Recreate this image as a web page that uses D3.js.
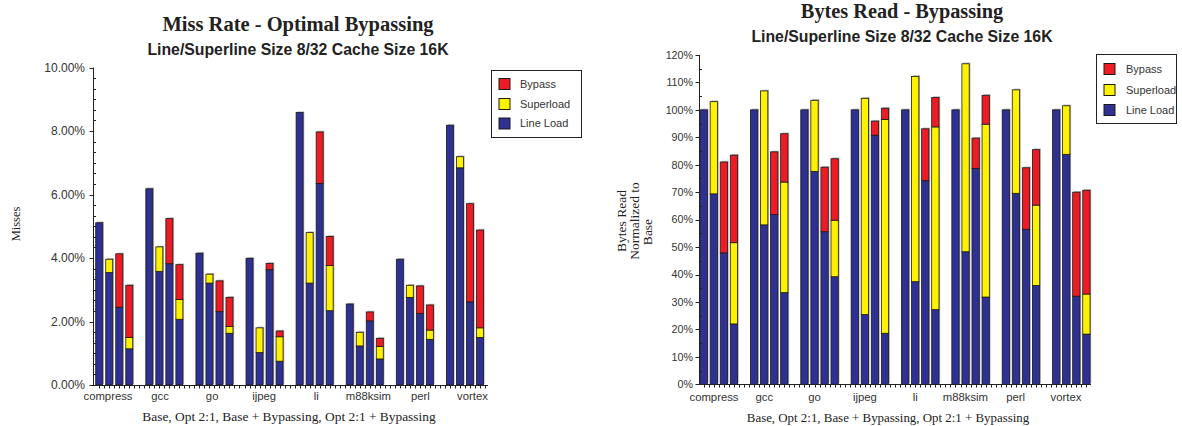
<!DOCTYPE html>
<html>
<head>
<meta charset="utf-8">
<script src="https://cdn.jsdelivr.net/npm/d3@7"></script>
<style>
  html, body { margin: 0; padding: 0; background: #fff; }
  svg { display: block; }
</style>
</head>
<body>
<div id="chart"></div>
<script>
// benchmarks and the four configurations drawn for each of them
const benchmarks = ['compress', 'gcc', 'go', 'ijpeg', 'li', 'm88ksim', 'perl', 'vortex'];
const configs = ['Base', 'Opt 2:1', 'Base + Bypassing', 'Opt 2:1 + Bypassing'];
const seriesKeys = ['lineLoad', 'superload', 'bypass'];
const legendNames = ['Bypass', 'Superload', 'Line Load'];

// Miss rate (%) - 4 bars per benchmark, in config order
const missLineLoad = [5.11, 3.54, 2.45, 1.14, 6.18, 3.58, 3.82, 2.07, 4.15, 3.21, 2.31, 1.63, 3.99, 1.02, 3.63, 0.75,
  8.58, 3.21, 6.35, 2.34, 2.55, 1.23, 2.02, 0.82, 3.96, 2.76, 2.25, 1.44, 8.18, 6.84, 2.62, 1.50];
const missSuperload = [0, 0.42, 0, 0.36, 0, 0.77, 0, 0.62, 0, 0.28, 0, 0.21, 0, 0.78, 0, 0.77,
  0, 1.59, 0, 1.42, 0, 0.43, 0, 0.39, 0, 0.38, 0, 0.29, 0, 0.35, 0, 0.30];
const missBypass = [0, 0, 1.68, 1.64, 0, 0, 1.42, 1.10, 0, 0, 0.97, 0.92, 0, 0, 0.20, 0.18,
  0, 0, 1.62, 0.92, 0, 0, 0.28, 0.26, 0, 0, 0.87, 0.79, 0, 0, 3.09, 3.08];
const missTicks = [0, 2, 4, 6, 8, 10];

// Bytes read normalized to base (%)
const bytesLineLoad = [100, 69.4, 47.9, 22.0, 100, 58.1, 61.9, 33.4, 100, 77.6, 55.6, 39.2, 100, 25.4, 90.8, 18.6,
  100, 37.4, 74.2, 27.2, 100, 48.3, 78.7, 31.8, 100, 69.6, 56.5, 36.0, 100, 83.8, 32.1, 18.3];
const bytesSuperload = [0, 33.6, 0, 29.6, 0, 48.8, 0, 40.3, 0, 25.9, 0, 20.6, 0, 78.8, 0, 77.9,
  0, 74.8, 0, 66.6, 0, 68.5, 0, 63.0, 0, 37.7, 0, 29.3, 0, 17.7, 0, 14.6];
const bytesBypass = [0, 0, 33.1, 31.9, 0, 0, 22.8, 17.6, 0, 0, 23.5, 22.4, 0, 0, 5.1, 4.1,
  0, 0, 18.9, 10.7, 0, 0, 11.0, 10.5, 0, 0, 22.4, 20.2, 0, 0, 37.9, 37.8];
const bytesTicks = [0, 10, 20, 30, 40, 50, 60, 70, 80, 90, 100, 110, 120];

const colors = { lineLoad: '#2e3191', superload: '#fff200', bypass: '#ed1c24' };
const legendColors = ['#ed1c24', '#fff200', '#2e3191'];
const SANS = '"Liberation Sans", Arial, sans-serif';
const SERIF = '"Liberation Serif", "Times New Roman", serif';
const INK = '#222';

const width = 1182, height = 426;
const svg = d3.select('#chart').append('svg')
  .attr('width', width)
  .attr('height', height);

function buildRows(lineLoad, superload, bypass) {
  const rows = [];
  benchmarks.forEach((b, g) => {
    configs.forEach((c, k) => {
      const i = g * configs.length + k;
      rows.push({ slot: g * (configs.length + 1) + k, lineLoad: lineLoad[i], superload: superload[i], bypass: bypass[i] });
    });
  });
  return rows;
}

function drawPanel(p) {
  const rows = buildRows(p.lineLoad, p.superload, p.bypass);
  const g = svg.append('g');

  const slots = d3.range(benchmarks.length * (configs.length + 1));
  const x = d3.scaleBand().domain(slots).range([p.slotStart, p.slotStart + slots.length * p.slotStep])
    .paddingInner(1 - p.barW / p.slotStep).paddingOuter((1 - p.barW / p.slotStep) / 2);
  const y = d3.scaleLinear().domain([0, p.yMax]).range([p.yBottom, p.yTop]);
  const xLabel = d3.scalePoint().domain(benchmarks).range(p.labelRange);

  const stack = d3.stack().keys(seriesKeys);
  const series = stack(rows);

  // bar shadows
  g.append('g').selectAll('rect')
    .data(rows)
    .enter().append('rect')
    .attr('x', d => x(d.slot) + 1.2)
    .attr('y', d => y(d.lineLoad + d.superload + d.bypass) - 1.2)
    .attr('width', x.bandwidth())
    .attr('height', d => y(0) - y(d.lineLoad + d.superload + d.bypass))
    .attr('fill', '#b4b4b4');

  // stacked segments
  g.append('g').selectAll('g')
    .data(series)
    .enter().append('g')
    .attr('fill', s => colors[s.key])
    .selectAll('rect')
    .data(s => s.filter(d => d[1] - d[0] > 0))
    .enter().append('rect')
    .attr('x', d => x(d.data.slot))
    .attr('y', d => y(d[1]))
    .attr('width', x.bandwidth())
    .attr('height', d => y(d[0]) - y(d[1]))
    .attr('stroke', '#1a1a1a')
    .attr('stroke-width', 0.8);

  // y axis
  const axisX = p.axisX0 + 0.5;
  g.append('line')
    .attr('x1', axisX).attr('x2', axisX)
    .attr('y1', y(p.yMax)).attr('y2', y(0))
    .attr('stroke', INK);
  const minorTicks = d3.range(0, p.yMax + 1e-6, p.minorStep).filter(v => !p.ticks.some(t => Math.abs(t - v) < 1e-6));
  g.append('g').selectAll('line')
    .data(minorTicks)
    .enter().append('line')
    .attr('x1', axisX).attr('x2', axisX + 2.5)
    .attr('y1', d => Math.round(y(d)) + 0.5).attr('y2', d => Math.round(y(d)) + 0.5)
    .attr('stroke', INK);
  g.append('g').selectAll('line')
    .data(p.ticks)
    .enter().append('line')
    .attr('x1', axisX - 4).attr('x2', axisX)
    .attr('y1', d => Math.round(y(d)) + 0.5).attr('y2', d => Math.round(y(d)) + 0.5)
    .attr('stroke', INK);
  g.append('g').selectAll('text')
    .data(p.ticks)
    .enter().append('text')
    .attr('x', p.axisX0 - p.tickGap)
    .attr('y', d => y(d))
    .attr('dy', '0.35em')
    .attr('text-anchor', 'end')
    .style('font-family', SANS)
    .style('font-size', p.tickFont + 'px')
    .style('fill', '#333')
    .text(p.tickFmt);

  // x axis
  const baseY = Math.round(y(0)) + 0.5;
  g.append('line')
    .attr('x1', p.axisX0).attr('x2', p.axisX1)
    .attr('y1', baseY).attr('y2', baseY)
    .attr('stroke', INK);
  const halfSteps = d3.range(0, 2 * slots.length + 1)
    .map(k => p.slotStart + k * x.step() / 2)
    .filter(v => v > p.axisX0 + 2 && v <= p.axisX1);
  g.append('g').selectAll('line')
    .data(halfSteps)
    .enter().append('line')
    .attr('x1', d => Math.round(d) + 0.5).attr('x2', d => Math.round(d) + 0.5)
    .attr('y1', baseY).attr('y2', baseY + 3)
    .attr('stroke', INK);
  g.append('g').selectAll('text')
    .data(benchmarks)
    .enter().append('text')
    .attr('x', d => xLabel(d))
    .attr('y', p.catY)
    .attr('text-anchor', 'middle')
    .style('font-family', SANS)
    .style('font-size', '11.3px')
    .style('fill', '#333')
    .text(d => d);

  // titles
  g.append('text')
    .attr('x', p.centerX).attr('y', p.titleY)
    .attr('text-anchor', 'middle')
    .style('font-family', SERIF).style('font-weight', 'bold')
    .style('font-size', p.titleFont + 'px').style('fill', INK)
    .text(p.title);
  g.append('text')
    .attr('x', p.centerX).attr('y', p.subY)
    .attr('text-anchor', 'middle')
    .style('font-family', SANS).style('font-weight', 'bold')
    .style('font-size', p.subFont + 'px').style('fill', INK)
    .text(p.subtitle);
  g.append('text')
    .attr('x', p.xTitleX).attr('y', p.xTitleY)
    .attr('text-anchor', 'middle')
    .style('font-family', SERIF)
    .style('font-size', p.xTitleFont + 'px').style('fill', INK)
    .text(configs.join(', '));

  // y title
  p.yTitle.forEach((line, i) => {
    g.append('text')
      .attr('transform', `translate(${p.yTitleX[i]},${p.yTitleY[i]}) rotate(-90)`)
      .attr('dy', '0.35em')
      .attr('text-anchor', 'middle')
      .style('font-family', SERIF)
      .style('font-size', p.yTitleFont + 'px').style('fill', INK)
      .text(line);
  });

  // legend
  const lg = g.append('g').attr('transform', `translate(${p.legend.x},${p.legend.y})`);
  lg.append('rect')
    .attr('x', 0.5).attr('y', 0.5)
    .attr('width', p.legend.w).attr('height', p.legend.h)
    .attr('fill', '#fff').attr('stroke', INK);
  const items = lg.selectAll('.legend-item')
    .data(legendNames)
    .enter().append('g')
    .attr('class', 'legend-item')
    .attr('transform', (d, i) => `translate(0,${p.legend.rows[i]})`);
  items.append('rect')
    .attr('x', p.legend.boxX).attr('y', -p.legend.box / 2)
    .attr('width', p.legend.box).attr('height', p.legend.box)
    .attr('fill', (d, i) => legendColors[i])
    .attr('stroke', '#1a1a1a');
  items.append('text')
    .attr('x', p.legend.textX).attr('dy', '0.35em')
    .style('font-family', SANS)
    .style('font-size', p.legend.font + 'px').style('fill', '#333')
    .text(d => d);
}

drawPanel({
  lineLoad: missLineLoad, superload: missSuperload, bypass: missBypass,
  ticks: missTicks, yMax: 10, minorStep: 2 / 6,
  tickFmt: d => d.toFixed(2) + '%', tickFont: 12, tickGap: 8,
  yTop: 67.5, yBottom: 385, axisX0: 93, axisX1: 488,
  slotStart: 94.2, slotStep: 10.02, barW: 7,
  labelRange: [108, 472.5], catY: 400,
  centerX: 298, title: 'Miss Rate - Optimal Bypassing', titleY: 31, titleFont: 20.5,
  subtitle: 'Line/Superline Size 8/32 Cache Size 16K', subY: 54.5, subFont: 15.8,
  xTitleX: 289, xTitleY: 421, xTitleFont: 13.4,
  yTitle: ['Misses'], yTitleX: [16], yTitleY: [224], yTitleFont: 12.5,
  legend: { x: 491, y: 70, w: 90, h: 67, rows: [14, 34, 53.5], box: 11, boxX: 8, textX: 29, font: 11 }
});

drawPanel({
  lineLoad: bytesLineLoad, superload: bytesSuperload, bypass: bytesBypass,
  ticks: bytesTicks, yMax: 120, minorStep: 5,
  tickFmt: d => d + '%', tickFont: 10.7, tickGap: 6,
  yTop: 55, yBottom: 384.3, axisX0: 699, axisX1: 1091,
  slotStart: 698.7, slotStep: 10.07, barW: 7.3,
  labelRange: [714, 1066], catY: 401,
  centerX: 902, title: 'Bytes Read - Bypassing', titleY: 18, titleFont: 20.3,
  subtitle: 'Line/Superline Size 8/32 Cache Size 16K', subY: 42, subFont: 15.8,
  xTitleX: 888, xTitleY: 422, xTitleFont: 12.9,
  yTitle: ['Bytes Read', 'Normalized to', 'Base'], yTitleX: [621.7, 634.3, 647], yTitleY: [221, 221, 232], yTitleFont: 13.5,
  legend: { x: 1096, y: 54, w: 80, h: 69, rows: [15, 36, 56], box: 11, boxX: 8, textX: 30, font: 11 }
});
</script>
</body>
</html>
